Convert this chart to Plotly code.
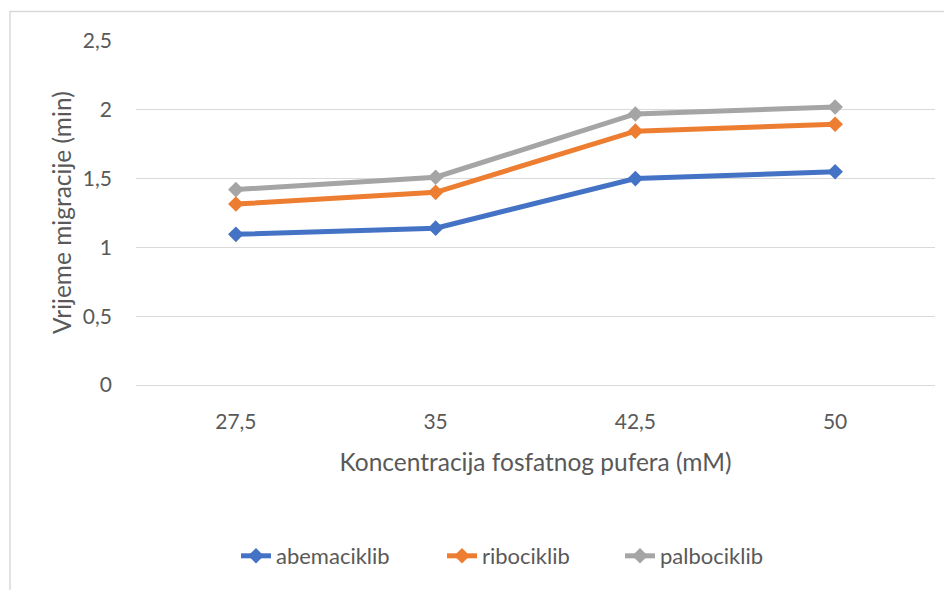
import plotly.graph_objects as go

categories = ["27,5", "35", "42,5", "50"]
abemaciklib = [1.095, 1.14, 1.50, 1.55]
ribociklib = [1.315, 1.40, 1.845, 1.895]
palbociklib = [1.42, 1.51, 1.97, 2.02]
series_names = ["abemaciklib", "ribociklib", "palbociklib"]
colors = ["#4472C4", "#ED7D31", "#A5A5A5"]
y_ticks = [0, 0.5, 1, 1.5, 2, 2.5]
y_ticktext = ["0", "0,5", "1", "1,5", "2", "2,5"]

FONT = "Lato"
TXT = "#595959"
OFF = 8  # body margin of the html page

# figure geometry (figure coords = page coords - OFF)
W, H = 944, 582
L, R, T, B = 136 - OFF, 17, 41 - OFF, 205
pw, ph = W - L - R, H - T - B


def px(x_page):
    return (x_page - OFF - L) / pw


def py(y_page):
    return (H - B - (y_page - OFF)) / ph


fig = go.Figure()
legend_ids = ["legend", "legend2", "legend3"]
for name, vals, c, lg in zip(series_names, [abemaciklib, ribociklib, palbociklib], colors, legend_ids):
    fig.add_trace(go.Scatter(
        x=categories, y=vals, name=name, mode="lines+markers",
        line=dict(color=c, width=5),
        marker=dict(symbol="diamond", size=12, color=c),
        legend=lg,
    ))

legend_text_starts = [277, 483, 661]
leg_common = dict(orientation="h", xanchor="left", y=py(556), yanchor="middle",
                  font=dict(size=22, color=TXT, family=FONT), bgcolor="rgba(0,0,0,0)",
                  borderwidth=0)

fig.update_layout(
    width=W, height=H, autosize=False,
    margin=dict(l=L, r=R, t=T, b=B),
    plot_bgcolor="white", paper_bgcolor="white",
    font=dict(family=FONT, color=TXT, size=21),
    showlegend=True,
    legend=dict(x=px(legend_text_starts[0] - 41), **leg_common),
    legend2=dict(x=px(legend_text_starts[1] - 41), **leg_common),
    legend3=dict(x=px(legend_text_starts[2] - 41), **leg_common),
    xaxis=dict(type="category", range=[-0.5, 3.5], showgrid=False, zeroline=False,
               showline=False, ticks="", ticklabelstandoff=22,
               tickfont=dict(size=21, color=TXT, family=FONT),
               title=dict(text="Koncentracija fosfatnog pufera (mM)",
                          font=dict(size=24.5, color=TXT, family=FONT), standoff=21)),
    yaxis=dict(range=[0, 2.5], tickvals=y_ticks, ticktext=y_ticktext, showgrid=True,
               gridcolor="#D9D9D9", gridwidth=1.3, zeroline=True, zerolinecolor="#D9D9D9",
               zerolinewidth=1.3, showline=False, ticks="",
               ticklabelstandoff=23, tickfont=dict(size=21, color=TXT, family=FONT)),
    annotations=[dict(text="Vrijeme migracije (min)", xref="paper", yref="paper",
                      x=px(61), y=py(213), xanchor="center", yanchor="middle",
                      textangle=-90, showarrow=False,
                      font=dict(size=24.5, color=TXT, family=FONT))],
    shapes=[dict(type="rect", xref="paper", yref="paper",
                 x0=px(10), x1=px(975), y0=py(610), y1=py(11.5),
                 line=dict(color="#D9D9D9", width=1.5), fillcolor="rgba(0,0,0,0)", layer="below")],
)

fig.write_html("out.html")
